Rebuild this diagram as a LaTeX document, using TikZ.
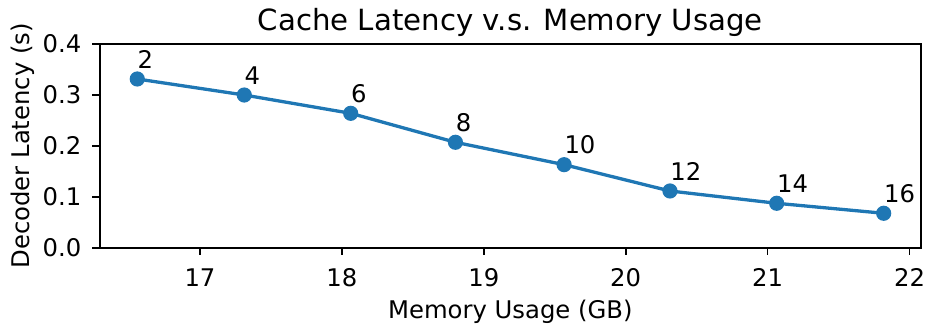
\documentclass[tikz,border=0pt]{standalone}
\usepackage{fontspec}
\setmainfont{DejaVu Sans}
\definecolor{mplblue}{HTML}{1F77B4}
\begin{document}
\begin{tikzpicture}[
  x=70.95pt, y=255pt, xshift=-1206.15pt,
  spine/.style={line width=0.88pt, line cap=rect},
  tickmark/.style={line width=0.88pt},
  ticklbl/.style={inner sep=0pt, font=\fontsize{12.15}{14}\selectfont},
  serie/.style={draw=mplblue, line width=1.65pt, line join=round},
  dot/.style={circle, fill=mplblue, inner sep=0pt, minimum size=7.6pt},
  ptlbl/.style={inner sep=0pt, anchor=base west, yshift=5.35pt, font=\fontsize{12.15}{14}\selectfont},
]
% canvas
\useasboundingbox (15.5906,-0.1575) rectangle (22.1233,0.4857);

% axes frame
\coordinate (ll) at (16.2953,0);
\coordinate (ur) at (22.079,0.4);
\draw[spine] (ll) rectangle (ur);

% y ticks
\foreach \v/\t in {0/0.0,0.1/0.1,0.2/0.2,0.3/0.3,0.4/0.4}{
  \coordinate (yt) at (16.2953,\v);
  \draw[tickmark] (yt) -- ++(-3.84pt,0);
  \node[ticklbl, anchor=east, xshift=-9.15pt] at (yt) {\t};
}
% x ticks
\foreach \v in {17,18,19,20,21,22}{
  \coordinate (xt) at (\v,0);
  \draw[tickmark] (xt) -- ++(0,-3.84pt);
  \node[ticklbl, anchor=north, yshift=-10.3pt] at (xt) {\v};
}

% axis labels and title
\coordinate (midb) at (19.1872,0);
\coordinate (midt) at (19.1872,0.4);
\coordinate (midl) at (16.2953,0.2);
\node[ticklbl, anchor=base, yshift=-35.15pt] (xlab) at (midb) {Memory Usage (GB)};
\node[ticklbl, xshift=-35.35pt, rotate=90, anchor=base] (ylab) at (midl) {Decoder Latency (s)};
\node[inner sep=0pt, anchor=base, yshift=6.85pt, font=\fontsize{14.6}{17}\selectfont] (title) at (midt) {Cache Latency v.s. Memory Usage};

% data
\coordinate (p1) at (16.558,0.3308);
\coordinate (p2) at (17.312,0.2994);
\coordinate (p3) at (18.062,0.2635);
\coordinate (p4) at (18.800,0.2067);
\coordinate (p5) at (19.566,0.1628);
\coordinate (p6) at (20.312,0.1112);
\coordinate (p7) at (21.064,0.0871);
\coordinate (p8) at (21.818,0.0675);
\draw[serie] (p1) -- (p2) -- (p3) -- (p4) -- (p5) -- (p6) -- (p7) -- (p8);

\foreach \i/\n in {1/2,2/4,3/6,4/8,5/10,6/12,7/14,8/16}{
  \node[dot] (m\i) at (p\i) {};
  \node[ptlbl] (l\i) at (p\i) {\n};
}
\end{tikzpicture}
\end{document}
